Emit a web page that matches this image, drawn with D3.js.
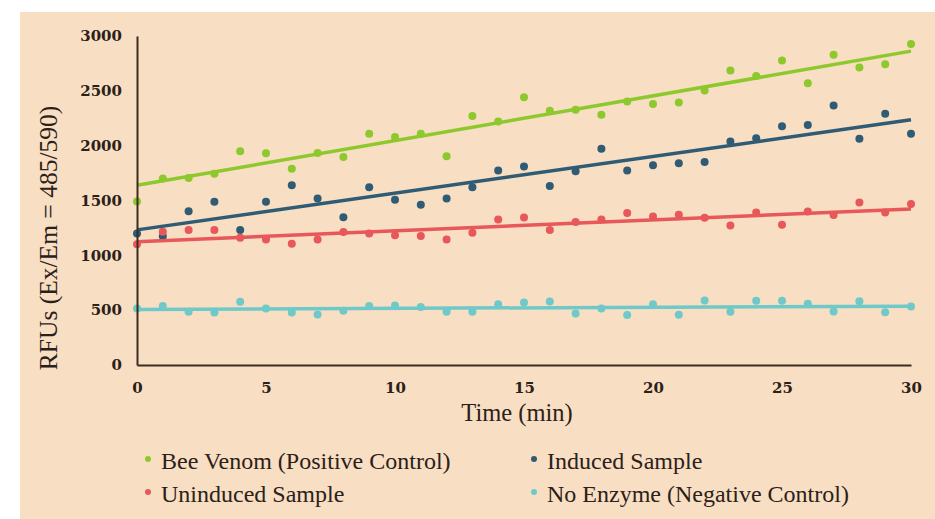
<!DOCTYPE html>
<meta charset="utf-8">
<style>
body { margin: 0; background: #fff; }
text { font-family: "Liberation Serif", serif; fill: #2b2118; }
.tick text { font-family: "DejaVu Serif", serif; font-weight: bold; font-size: 15px; }
.domain { stroke: #3a2d20; stroke-width: 2px; }
</style>
<svg width="935" height="519"></svg>
<script src="https://cdn.jsdelivr.net/npm/d3@7"></script>
<script>

var minutes = d3.range(0, 31);

var beeVenom = [1490, 1700, 1705, 1745, 1948, 1930, 1790, 1933, 1897, 2109, 2079,
  2109, 1903, 2270, 2221, 2442, 2318, 2327, 2282, 2403, 2379,
  2394, 2503, 2685, 2636, 2776, 2570, 2830, 2712, 2742, 2927];
var induced = [1200, 1175, 1403, 1488, 1230, 1488, 1639, 1518, 1348, 1621, 1506,
  1461, 1518, 1621, 1773, 1809, 1633, 1767, 1973, 1773, 1821,
  1839, 1852, 2039, 2067, 2176, 2188, 2367, 2064, 2291, 2109];
var uninduced = [1100, 1215, 1230, 1230, 1160, 1145, 1106, 1145, 1212, 1200, 1182,
  1176, 1145, 1206, 1327, 1345, 1230, 1303, 1327, 1385, 1355,
  1370, 1342, 1273, 1391, 1279, 1400, 1367, 1482, 1391, 1467];
var noEnzyme = [515, 539, 485, 479, 576, 515, 479, 461, 494, 539, 542,
  530, 485, 485, 555, 570, 579, 470, 515, 455, 555,
  458, 588, 485, 585, 585, 558, 488, 582, 482, 533];

var seriesNames = ["Bee Venom (Positive Control)", "Induced Sample", "Uninduced Sample", "No Enzyme (Negative Control)"];
var seriesValues = [beeVenom, induced, uninduced, noEnzyme];
var seriesColors = ["#8dc92c", "#2f5b74", "#e85759", "#70c9c9"];

var xTicks = [0, 5, 10, 15, 20, 25, 30];
var yTicks = [0, 500, 1000, 1500, 2000, 2500, 3000];

var svg = d3.select("svg");

svg.append("rect")
    .attr("x", 20).attr("y", 12)
    .attr("width", 915).attr("height", 507)
    .attr("fill", "#f8dec3");

var x = d3.scaleLinear().domain([0, 30]).range([137, 911]);
var y = d3.scaleLinear().domain([0, 3000]).range([365, 36]);

// least squares trend line
function fit(vals) {
  var mx = d3.mean(minutes), my = d3.mean(vals);
  var num = d3.sum(minutes, function(t, i) { return (t - mx) * (vals[i] - my); });
  var den = d3.sum(minutes, function(t) { return (t - mx) * (t - mx); });
  var b = num / den;
  return [[0, my - b * mx], [30, my + b * (30 - mx)]];
}

var line = d3.line()
    .x(function(d) { return x(d[0]); })
    .y(function(d) { return y(d[1]); });

var g = svg.append("g");

seriesValues.forEach(function(vals, i) {
  g.append("g")
    .selectAll("circle")
    .data(vals)
    .enter().append("circle")
      .attr("cx", function(d, j) { return x(minutes[j]); })
      .attr("cy", function(d) { return y(d); })
      .attr("r", 4)
      .attr("fill", seriesColors[i]);
});

seriesValues.forEach(function(vals, i) {
  g.append("path")
    .datum(fit(vals))
    .attr("d", line)
    .attr("fill", "none")
    .attr("stroke", seriesColors[i])
    .attr("stroke-width", 3.5);
});

svg.append("g")
    .attr("transform", "translate(0," + y(0) + ")")
    .call(d3.axisBottom(x).tickValues(xTicks).tickSize(0).tickPadding(17).tickFormat(d3.format("d")));

svg.append("g")
    .attr("transform", "translate(" + x(0) + ",0)")
    .call(d3.axisLeft(y).tickValues(yTicks).tickSize(0).tickPadding(15).tickFormat(d3.format("d")));

svg.selectAll(".tick text").attr("font-family", null).attr("font-size", null).attr("fill", "#2b2118");

svg.append("text")
    .attr("x", 517).attr("y", 421)
    .attr("text-anchor", "middle")
    .style("font-size", "24.5px")
    .text("Time (min)");

svg.append("text")
    .attr("transform", "translate(57,238) rotate(-90)")
    .attr("text-anchor", "middle")
    .style("font-size", "25.5px")
    .text("RFUs (Ex/Em = 485/590)");

var legendPos = [[148, 469], [534, 469], [148, 502], [534, 502]];
var legend = svg.append("g")
  .selectAll("g")
  .data(seriesNames)
  .enter().append("g")
    .attr("transform", function(d, i) { return "translate(" + legendPos[i][0] + "," + legendPos[i][1] + ")"; });

legend.append("circle")
    .attr("r", 3)
    .attr("cy", -10)
    .attr("fill", function(d, i) { return seriesColors[i]; });

legend.append("text")
    .attr("x", 13)
    .style("font-size", "24px")
    .text(function(d) { return d; });

</script>
